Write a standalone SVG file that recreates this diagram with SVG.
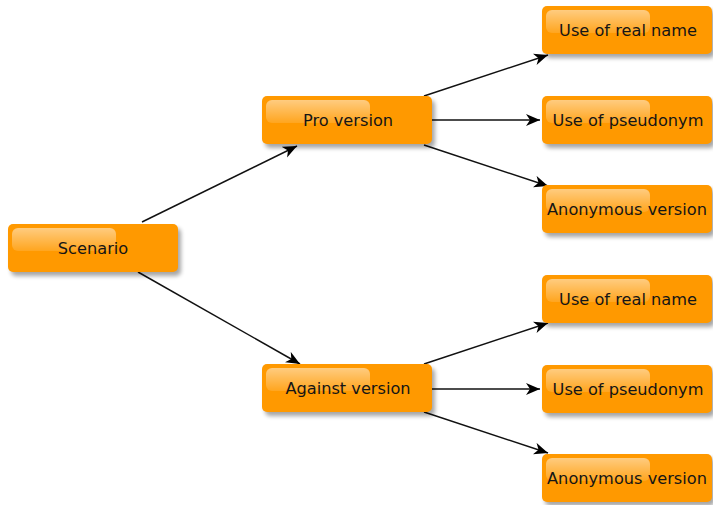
<svg xmlns="http://www.w3.org/2000/svg" width="713" height="505" viewBox="0 0 713 505">
<defs>
<linearGradient id="gloss" x1="0" y1="0" x2="0" y2="1">
<stop offset="0" stop-color="#fff" stop-opacity="0.5"/>
<stop offset="1" stop-color="#fff" stop-opacity="0.12"/>
</linearGradient>
<filter id="sh" x="-10%" y="-20%" width="130%" height="150%">
<feGaussianBlur stdDeviation="2"/>
</filter>
<marker id="arr" markerWidth="16" markerHeight="13" refX="14" refY="6" orient="auto" markerUnits="userSpaceOnUse">
<path d="M0,0 L14,6 L0,12 L4,6 z" fill="#000"/>
</marker>
<g id="box">
<rect x="3" y="4" width="170" height="48" rx="5" fill="#000" opacity="0.35" filter="url(#sh)"/>
<rect x="0" y="0" width="170" height="48" rx="5" fill="#ff9900"/>
<rect x="4" y="4" width="104" height="23" rx="6" fill="url(#gloss)"/>
</g>
</defs>
<style>
text{font-family:"DejaVu Sans",sans-serif;font-size:16.2px;fill:#151515;text-anchor:middle}
.c{stroke:#111;stroke-width:1.5;fill:none;marker-end:url(#arr)}
</style>
<g id="connectors">
<line class="c" x1="142" y1="222" x2="297" y2="146"/>
<line class="c" x1="138" y1="272" x2="300" y2="364"/>
<line class="c" x1="424" y1="96" x2="548" y2="55"/>
<line class="c" x1="432" y1="120" x2="540" y2="120"/>
<line class="c" x1="424" y1="145" x2="548" y2="186"/>
<line class="c" x1="424" y1="364" x2="548" y2="323"/>
<line class="c" x1="432" y1="389" x2="540" y2="389"/>
<line class="c" x1="424" y1="412" x2="548" y2="453"/>
</g>
<g id="scenario"><use href="#box" x="8" y="224"/><text x="93" y="254">Scenario</text></g>
<g id="pro"><use href="#box" x="262" y="96"/><text x="348" y="126">Pro version</text></g>
<g id="against"><use href="#box" x="262" y="364"/><text x="348" y="394">Against version</text></g>
<g id="pro-real"><use href="#box" x="542" y="6"/><text x="628" y="36">Use of real name</text></g>
<g id="pro-pseudo"><use href="#box" x="542" y="96"/><text x="628" y="126">Use of pseudonym</text></g>
<g id="pro-anon"><use href="#box" x="542" y="185"/><text x="627" y="215">Anonymous version</text></g>
<g id="against-real"><use href="#box" x="542" y="275"/><text x="628" y="305">Use of real name</text></g>
<g id="against-pseudo"><use href="#box" x="542" y="365"/><text x="628" y="395">Use of pseudonym</text></g>
<g id="against-anon"><use href="#box" x="542" y="454"/><text x="627" y="484">Anonymous version</text></g>
</svg>
